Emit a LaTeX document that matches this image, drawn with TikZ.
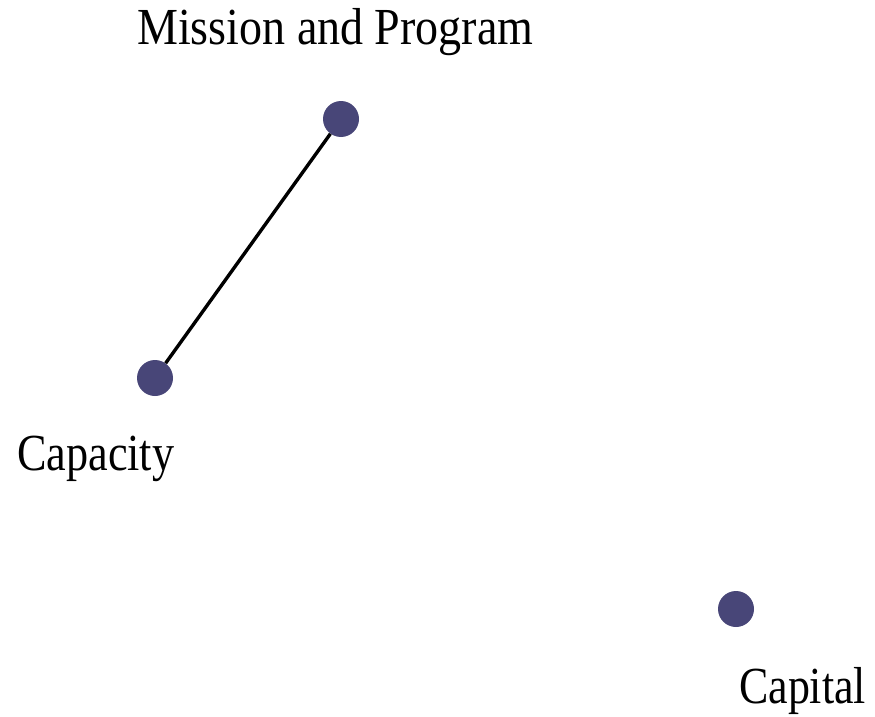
\documentclass[tikz,border=0pt]{standalone}
\usepackage{fontspec}
\setmainfont{Liberation Serif}
\definecolor{dotblue}{RGB}{72,70,120}
\begin{document}
\begin{tikzpicture}[x=1pt,y=-1pt,
  dot/.style={circle,fill=dotblue,minimum size=36pt,inner sep=0pt},
  lbl/.style={anchor=base west,inner sep=0pt,font=\fontsize{52}{60}\selectfont},
  link/.style={line width=3.4pt,black}]
  \useasboundingbox (0,0) rectangle (875,717);
  % points
  \node[dot] (mission) at (341,119) {};
  \node[dot] (capacity) at (155,378) {};
  \node[dot] (capital) at (736,609) {};
  % labels
  \node[lbl] (missionlbl) at (137,45) {\scalebox{0.885}[1]{Mission and Program}};
  \node[lbl] (capacitylbl) at (17,470) {\scalebox{0.85}[1]{Capacity}};
  \node[lbl] (capitallbl) at (739,703) {\scalebox{0.845}[1]{Capital}};
  % connection
  \draw[link] (mission) -- (capacity);
\end{tikzpicture}
\end{document}
